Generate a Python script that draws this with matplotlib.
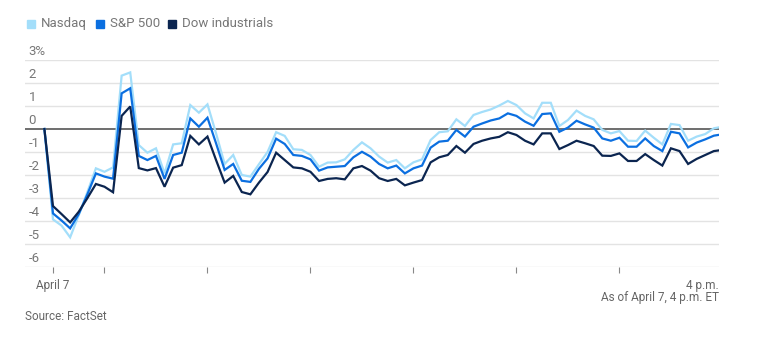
import matplotlib
matplotlib.use("Agg")
import matplotlib.pyplot as plt
from matplotlib.patches import Rectangle

plt.rcParams['font.family'] = ['Roboto', 'DejaVu Sans']

# minutes after 9:30 a.m. (first point is 9:25, last 4 p.m.), 5-minute steps
minutes = [5 * (i - 1) for i in range(80)]

nasdaq = [0, -3.93, -4.2, -4.71, -3.75, -2.75, -1.71, -1.86, -1.67, 2.32,
          2.46, -0.70, -1.03, -0.84, -1.93, -0.67, -0.62, 1.04, 0.71, 1.07,
          -0.19, -1.52, -1.13, -2.0, -2.07, -1.53, -1.0, -0.14, -0.30, -0.88,
          -0.91, -1.13, -1.64, -1.46, -1.45, -1.32, -0.91, -0.58, -0.84, -1.2,
          -1.46, -1.35, -1.71, -1.45, -1.32, -0.48, -0.14, -0.10, 0.42, 0.13,
          0.61, 0.74, 0.85, 1.02, 1.22, 1.04, 0.68, 0.46, 1.14, 1.14,
          0.13, 0.39, 0.80, 0.57, 0.42, -0.04, -0.19, -0.09, -0.51, -0.52,
          -0.07, -0.38, -0.67, 0.22, 0.17, -0.51, -0.33, -0.22, 0.03, 0.10]

sp500 = [0, -3.67, -3.98, -4.32, -3.70, -2.85, -1.93, -2.07, -2.16, 1.55,
         1.77, -1.17, -1.35, -1.17, -2.17, -1.13, -1.03, 0.46, 0.10, 0.49,
         -0.62, -1.78, -1.52, -2.25, -2.30, -1.73, -1.28, -0.42, -0.65, -1.13,
         -1.17, -1.32, -1.81, -1.67, -1.64, -1.61, -1.23, -0.99, -1.20, -1.52,
         -1.71, -1.59, -1.93, -1.71, -1.59, -0.81, -0.55, -0.51, -0.04, -0.33,
         0.10, 0.24, 0.37, 0.46, 0.68, 0.57, 0.32, 0.14, 0.65, 0.68,
         -0.12, 0.06, 0.36, 0.20, 0.06, -0.41, -0.51, -0.38, -0.77, -0.77,
         -0.41, -0.74, -0.96, -0.12, -0.19, -0.80, -0.59, -0.45, -0.29, -0.23]

dow = [0, -3.35, -3.70, -4.06, -3.60, -3.01, -2.39, -2.51, -2.75, 0.57,
       0.98, -1.70, -1.80, -1.70, -2.51, -1.68, -1.57, -0.30, -0.67, -0.33,
       -1.35, -2.33, -2.04, -2.74, -2.84, -2.33, -1.87, -1.03, -1.35, -1.67,
       -1.71, -1.86, -2.26, -2.17, -2.14, -2.19, -1.71, -1.61, -1.81, -2.14,
       -2.26, -2.17, -2.45, -2.33, -2.22, -1.45, -1.23, -1.13, -0.74, -1.03,
       -0.65, -0.51, -0.41, -0.34, -0.14, -0.26, -0.51, -0.67, -0.19, -0.19,
       -0.87, -0.70, -0.51, -0.62, -0.74, -1.16, -1.17, -1.06, -1.39, -1.39,
       -1.09, -1.35, -1.59, -0.84, -0.96, -1.52, -1.30, -1.13, -0.96, -0.91]

series_names = ['Nasdaq', 'S&P 500', 'Dow industrials']
colors = ['#a3defa', '#0b6fe0', '#0b2550']

y_ticks = [3, 2, 1, 0, -1, -2, -3, -4, -5, -6]
y_labels = ['3%', '2', '1', '0', '-1', '-2', '-3', '-4', '-5', '-6']
x_ticks = [0, 30, 90, 150, 210, 270, 330]

W, H = 763, 354
fig = plt.figure(figsize=(W / 100, H / 100), dpi=100)
ax = fig.add_axes([25 / W, 1 - 267 / H, (719 - 25) / W, (267 - 60) / H])
ax.set_xlim(-16.3, 388)
ax.set_ylim(-6, 3)

for v in y_ticks:
    if v == 0:
        continue
    ax.axhline(v, color='#e3e3e3', lw=1.0, zorder=1)
ax.axhline(0, color='#6e6e6e', lw=1.4, zorder=2)

for vals, c in zip([nasdaq, sp500, dow], colors):
    ax.plot(minutes, vals, color=c, lw=1.6, zorder=3, solid_joinstyle='miter')

for s in ax.spines.values():
    s.set_visible(False)
ax.set_yticks([])
ax.set_xticks(x_ticks)
ax.set_xticklabels([])
ax.tick_params(axis='x', length=4, width=0.8, color='#888888', direction='out')

for v, lab in zip(y_ticks, y_labels):
    ax.annotate(lab, xy=(0, v), xycoords=('axes fraction', 'data'),
                xytext=(2.5, 1.5), textcoords='offset points', fontsize=9.5,
                color='#777777', ha='left', va='bottom')

ax.annotate('April 7', xy=(0, -6), xycoords='data', xytext=(0, -9),
            textcoords='offset points', ha='center', va='top',
            fontsize=8.5, color='#666666')
ax.annotate('4 p.m.', xy=(1, 0), xycoords='axes fraction', xytext=(0, -9),
            textcoords='offset points', ha='right', va='top',
            fontsize=8.5, color='#666666')
fig.text(719 / W, 1 - 298 / H, 'As of April 7, 4 p.m. ET', ha='right',
         va='center', fontsize=8.5, color='#666666')
fig.text(25 / W, 1 - 316 / H, 'Source: FactSet', ha='left', va='center',
         fontsize=8.5, color='#666666')

# legend
lx = [27, 96, 168]
for x0, name, c in zip(lx, series_names, colors):
    fig.patches.append(Rectangle((x0 / W, 1 - 27.5 / H), 7.5 / W, 7.5 / H,
                                 transform=fig.transFigure, color=c))
    fig.text((x0 + 14) / W, 1 - 23.5 / H, name, ha='left', va='center',
             fontsize=9.5, color='#777777')

fig.savefig('out.png', dpi=100)
